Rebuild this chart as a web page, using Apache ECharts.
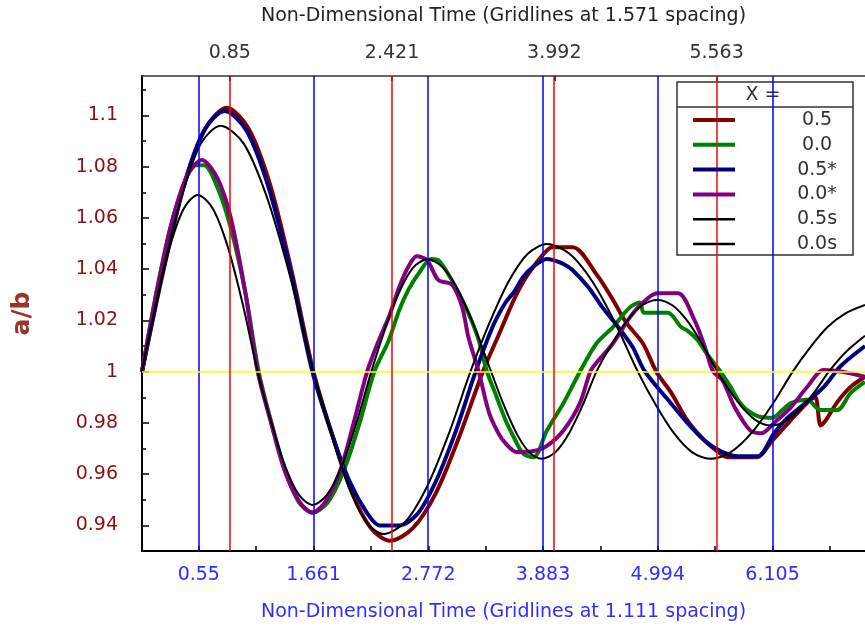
<!DOCTYPE html>
<html>
<head>
<meta charset="utf-8">
<script src="https://cdn.jsdelivr.net/npm/echarts@6.0.0/dist/echarts.min.js"></script>
<style>
html,body{margin:0;padding:0;background:#fff;}
#AspectRatio{width:865px;height:631px;}
</style>
</head>
<body>
<div id="AspectRatio"></div>
<script>
// series names, in legend order
var nombres = ['0.5', '0.0', '0.5*', '0.0*', '0.5s', '0.0s'];
var colores = ['#800000', '#008000', '#000080', '#800080', '#000000', '#000000'];
var grosores = [4, 4, 4, 4, 2, 2];

// a/b against non-dimensional time
var serie05 = [[0,1],[0.205,1.039],[0.41,1.073],[0.615,1.095],[0.82,1.103],[1.03,1.095],[1.24,1.073],[1.45,1.039],[1.66,1.0],
	[1.845,0.975],[2.03,0.953],[2.215,0.939],[2.40,0.934],[2.625,0.939],[2.85,0.953],[3.075,0.975],[3.30,1.0],[3.45,1.014],
	[3.60,1.028],[3.69,1.035],[3.79,1.041],[3.89,1.046],[3.97,1.0486],[4.17,1.0486],[4.40,1.038],[4.56,1.028],[4.69,1.019],
	[4.85,1.011],[4.98,1.0],[5.12,0.992],[5.28,0.981],[5.45,0.973],[5.60,0.968],[5.67,0.9666],[5.95,0.9666],[6.1,0.973],
	[6.28,0.981],[6.47,0.989],[6.52,0.99],[6.57,0.979],[6.62,0.981],[6.73,0.988],[6.86,0.994],[7.0,0.998]];
var serie00 = [[0,1],[0.14,1.031],[0.28,1.057],[0.42,1.0745],[0.50,1.0806],[0.60,1.0806],[0.73,1.072],[0.86,1.056],[1.0,1.031],
	[1.13,1.0],[1.26,0.979],[1.39,0.961],[1.52,0.949],[1.65,0.945],[1.80,0.949],[1.95,0.961],[2.10,0.979],[2.25,1.0],
	[2.39,1.0123],[2.49,1.024],[2.58,1.032],[2.68,1.0384],[2.80,1.044],[2.87,1.0435],[3.0,1.0357],[3.1,1.028],[3.19,1.020],
	[3.26,1.0123],[3.34,1.0],[3.42,0.9916],[3.52,0.981],[3.6,0.9744],[3.69,0.968],[3.79,0.9666],[3.92,0.977],[4.08,0.9877],
	[4.24,1.0],[4.40,1.011],[4.56,1.0174],[4.72,1.025],[4.82,1.027],[4.86,1.023],[5.09,1.023],[5.22,1.0174],[5.28,1.016],
	[5.38,1.0123],[5.45,1.008],[5.60,1.0],[5.70,0.994],[5.77,0.989],[5.86,0.985],[5.99,0.9823],[6.1,0.982],[6.2,0.985],
	[6.28,0.9877],[6.44,0.989],[6.57,0.985],[6.73,0.985],[6.86,0.9916],[7.0,0.996]];
var serie05e = [[0,1],[0.2,1.039],[0.4,1.072],[0.6,1.094],[0.8,1.1017],[1.0125,1.094],[1.225,1.072],[1.4375,1.039],[1.65,1.0],
	[1.8275,0.977],[2.005,0.9576],[2.1825,0.9446],[2.30,0.940],[2.49,0.940],[2.67,0.9446],[2.85,0.9576],[3.04,0.977],[3.23,1.0],
	[3.40,1.018],[3.52,1.027],[3.60,1.031],[3.69,1.037],[3.79,1.041],[3.92,1.044],[3.98,1.0435],[4.08,1.042],[4.17,1.0396],
	[4.32,1.033],[4.46,1.025],[4.61,1.0174],[4.75,1.0096],[4.87,1.0],[5.12,0.9877],[5.28,0.98],[5.45,0.973],[5.60,0.969],
	[5.77,0.967],[5.96,0.967],[6.12,0.976],[6.25,0.982],[6.37,0.986],[6.6,0.994],[6.76,1.002],[7.0,1.01]];
var serie00e = [[0,1],[0.145,1.0316],[0.29,1.0584],[0.435,1.0763],[0.58,1.0826],[0.73,1.0755],[0.86,1.06],[1.0,1.031],[1.12,1.0],
	[1.25,0.98],[1.38,0.9615],[1.52,0.9495],[1.65,0.945],[1.78,0.9495],[1.92,0.9615],[2.05,0.98],[2.18,1.0],[2.29,1.012],
	[2.39,1.0213],[2.49,1.033],[2.58,1.041],[2.66,1.045],[2.76,1.0435],[2.87,1.0357],[3.0,1.034],[3.1,1.0252],[3.16,1.0135],
	[3.26,1.0],[3.36,0.984],[3.45,0.976],[3.52,0.972],[3.63,0.9686],[3.79,0.969],[3.92,0.971],[4.08,0.977],[4.24,0.9877],
	[4.34,1.0],[4.40,1.0035],[4.56,1.011],[4.72,1.021],[4.85,1.027],[4.99,1.0306],[5.19,1.0306],[5.35,1.02],[5.45,1.0096],
	[5.53,1.0],[5.62,0.9967],[5.74,0.986],[5.89,0.977],[6.0,0.976],[6.12,0.980],[6.28,0.986],[6.44,0.994],[6.6,1.0006],
	[6.78,1.0],[7.0,0.998]];
var serie05s = [[0,1],[0.19,1.037],[0.38,1.068],[0.57,1.089],[0.76,1.096],[0.985,1.089],[1.21,1.068],[1.435,1.037],[1.66,1.0],
	[1.83,0.9757],[2.0,0.9552],[2.17,0.9414],[2.34,0.9366],[2.55,0.9414],[2.76,0.9552],[2.97,0.9757],[3.18,1.0],[3.365,1.0191],
	[3.55,1.0352],[3.735,1.046],[3.92,1.0498],[4.14,1.046],[4.36,1.0352],[4.58,1.0191],[4.80,1.0],[4.975,0.987],[5.15,0.976],
	[5.325,0.9686],[5.5,0.966],[5.7,0.9686],[5.9,0.976],[6.1,0.987],[6.3,1.0],[6.47,1.0095],[6.64,1.0175],[6.8,1.0225],[7.0,1.026]];
var serie00s = [[0,1],[0.135,1.0264],[0.27,1.0488],[0.405,1.0637],[0.54,1.069],[0.685,1.0637],[0.83,1.0488],[0.975,1.0264],[1.12,1.0],
	[1.2525,0.9801],[1.385,0.9632],[1.5175,0.952],[1.65,0.948],[1.7925,0.952],[1.935,0.9632],[2.0775,0.9801],[2.22,1.0],
	[2.355,1.0168],[2.49,1.031],[2.625,1.0406],[2.76,1.0439],[2.915,1.0406],[3.07,1.031],[3.225,1.0168],[3.38,1.0],
	[3.5025,0.987],[3.625,0.976],[3.7475,0.9686],[3.87,0.966],[4.0025,0.9686],[4.135,0.976],[4.2675,0.987],[4.40,1.0],
	[4.5475,1.0107],[4.695,1.0198],[4.8425,1.0259],[4.99,1.028],[5.135,1.0259],[5.28,1.0198],[5.425,1.0107],[5.57,1.0],
	[5.7,0.992],[5.83,0.9852],[5.96,0.9806],[6.09,0.979],[6.23,0.9806],[6.37,0.9852],[6.51,0.992],[6.65,1.0],[6.81,1.0075],[7.0,1.014]];
var datos = [serie05, serie00, serie05e, serie00e, serie05s, serie00s];

// gridlines and tick labels
var lineasAzules = [0.55, 1.661, 2.772, 3.883, 4.994, 6.105];
var lineasRojas = [0.85, 2.421, 3.992, 5.563];
var ticksAbajo = [0.55, 1.1055, 1.661, 2.2165, 2.772, 3.3275, 3.883, 4.4385, 4.994, 5.5495, 6.105, 6.6605];
var etiquetasY = [0.94, 0.96, 0.98, 1, 1.02, 1.04, 1.06, 1.08, 1.1];
var ticksMenoresY = [0.93, 0.95, 0.97, 0.99, 1.01, 1.03, 1.05, 1.07, 1.09, 1.11];

var fuente = 'DejaVu Sans';
var dom = document.getElementById("AspectRatio");
var myChart = echarts.init(dom);

var series = [];
var leyenda = [];
for (var i = 0; i < nombres.length; i++) {
	series.push({
		name: nombres[i],
		type: 'line',
		data: datos[i],
		symbol: 'none',
		smooth: 0.3,
		z: 2,
		lineStyle: {color: colores[i], width: grosores[i]},
		itemStyle: {color: colores[i]},
		emphasis: {disabled: true}
	});
	leyenda.push({
		name: nombres[i],
		itemStyle: {opacity: 0},
		lineStyle: {color: colores[i], width: grosores[i] == 4 ? 4 : 2.5}
	});
}
// blue and yellow gridlines
series.push({
	name: 'grid1',
	type: 'line',
	data: [],
	z: 3,
	silent: true,
	markLine: {
		silent: true,
		symbol: ['none', 'none'],
		label: {show: false},
		animation: false,
		data: lineasAzules.map(function(v){ return {xAxis: v, lineStyle: {color: '#0000ff', width: 1.5, type: 'solid'}}; })
			.concat([{yAxis: 1, lineStyle: {color: '#ffff00', width: 1.5, type: 'solid'}}])
	}
});
// red gridlines go over the legend box
series.push({
	name: 'grid2',
	type: 'line',
	data: [],
	z: 10,
	silent: true,
	markLine: {
		silent: true,
		symbol: ['none', 'none'],
		label: {show: false},
		animation: false,
		data: lineasRojas.map(function(v){ return {xAxis: v, lineStyle: {color: '#ff0000', width: 1.5, type: 'solid'}}; })
	}
});

var option = {
	animation: false,
	backgroundColor: '#fff',
	textStyle: {fontFamily: fuente},
	grid: {left: 142, top: 76, right: -3, bottom: 80},
	legend: {
		data: leyenda,
		orient: 'vertical',
		left: 686,
		top: 105.5,
		z: 6,
		itemWidth: 42,
		itemHeight: 14,
		itemGap: 5.8,
		selectedMode: false,
		itemStyle: {opacity: 0},
		formatter: function(n){ return '{t|' + n + '}'; },
		textStyle: {
			fontFamily: fuente,
			fontSize: 19,
			color: '#333',
			rich: {t: {width: 154, align: 'center', fontFamily: fuente, fontSize: 19, color: '#333'}}
		}
	},
	graphic: [
		{type: 'rect', z: 5, shape: {x: 677, y: 82, width: 176, height: 173}, style: {fill: '#fff', stroke: '#333', lineWidth: 1.5}},
		{type: 'line', z: 5, shape: {x1: 677, y1: 107, x2: 853, y2: 107}, style: {stroke: '#333', lineWidth: 1.5}},
		{type: 'text', z: 5, x: 763, y: 95, style: {text: 'X =', fill: '#333', font: '19px "DejaVu Sans"', textAlign: 'center', textVerticalAlign: 'middle'}}
	],
	xAxis: [
		{
			type: 'value',
			position: 'bottom',
			min: 0,
			max: 7,
			name: 'Non-Dimensional Time (Gridlines at 1.111 spacing)',
			nameLocation: 'middle',
			nameGap: 52,
			nameTextStyle: {color: '#2e2eff', fontSize: 19, fontFamily: fuente},
			axisLine: {show: true, onZero: false, lineStyle: {color: '#000', width: 2}},
			axisTick: {show: true, inside: true, length: 5, customValues: ticksAbajo, lineStyle: {color: '#000', width: 1.5}},
			axisLabel: {
				customValues: lineasAzules,
				margin: 15,
				color: '#2e2eff',
				fontSize: 19,
				fontFamily: fuente,
				formatter: function(v){ return String(+v.toFixed(3)); }
			},
			splitLine: {show: false}
		},
		{
			type: 'value',
			position: 'top',
			min: 0,
			max: 7,
			name: 'Non-Dimensional Time (Gridlines at 1.571 spacing)',
			nameLocation: 'middle',
			nameGap: 50,
			nameTextStyle: {color: '#222', fontSize: 19, fontFamily: fuente},
			axisLine: {show: true, onZero: false, lineStyle: {color: '#333', width: 1.5}},
			axisTick: {show: true, inside: true, length: 5, customValues: lineasRojas, lineStyle: {color: '#000', width: 1.5}},
			axisLabel: {
				customValues: lineasRojas,
				margin: 13,
				color: '#333',
				fontSize: 19,
				fontFamily: fuente,
				formatter: function(v){ return String(+v.toFixed(3)); }
			},
			splitLine: {show: false}
		}
	],
	yAxis: [
		{
			type: 'value',
			min: 0.93,
			max: 1.1154,
			name: 'a/b',
			nameLocation: 'middle',
			nameGap: 107,
			nameRotate: 90,
			nameTextStyle: {color: '#a0302a', fontSize: 25, fontWeight: 'bold', fontFamily: fuente},
			axisLine: {show: true, onZero: false, lineStyle: {color: '#000', width: 2}},
			axisTick: {show: true, inside: true, length: 7, customValues: etiquetasY, lineStyle: {color: '#000', width: 1.5}},
			axisLabel: {
				customValues: etiquetasY,
				margin: 24,
				color: '#8b1010',
				fontSize: 19,
				fontFamily: fuente,
				formatter: function(v){ return String(+v.toFixed(2)); }
			},
			splitLine: {show: false}
		},
		{
			type: 'value',
			position: 'left',
			min: 0.93,
			max: 1.1154,
			axisLine: {show: false},
			axisTick: {show: true, inside: true, length: 4, customValues: ticksMenoresY, lineStyle: {color: '#000', width: 1.5}},
			axisLabel: {show: false},
			splitLine: {show: false}
		}
	],
	series: series
};

if (option && typeof option === "object") {
	myChart.setOption(option, true);
}
</script>
</body>
</html>
